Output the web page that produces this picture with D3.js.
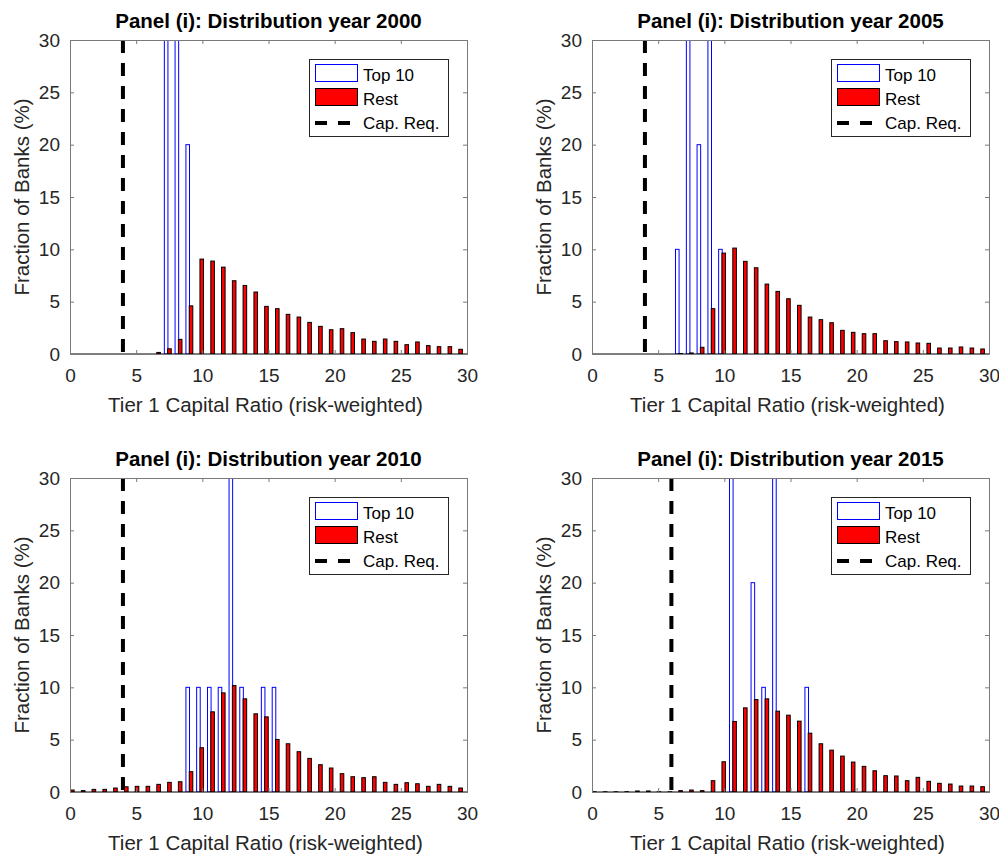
<!DOCTYPE html>
<html>
<head>
<meta charset="utf-8">
<script src="https://cdn.jsdelivr.net/npm/d3@7"></script>
<style>
  body { margin: 0; background: #fff; }
  svg { font-family: "Liberation Sans", Arial, sans-serif; }
  .tick text { fill: #262626; }
</style>
</head>
<body>
<div id="chart"></div>
<script>
// Data
const binCenters = [0.05, 0.87, 1.68, 2.50, 3.31, 4.13, 4.94, 5.76, 6.57, 7.39, 8.20, 9.02, 9.83, 10.65, 11.46, 12.28, 13.09, 13.91, 14.72, 15.54, 16.35, 17.17, 17.98, 18.80, 19.61, 20.43, 21.24, 22.06, 22.87, 23.69, 24.50, 25.32, 26.13, 26.95, 27.76, 28.58, 29.39];

const years = ['2000', '2005', '2010', '2015'];
const capReq = [4, 4, 4, 6];

const top10_2000 = [0,0,0,0,0,0,0,0,0,40,40,20,0,0,0,0,0,0,0,0,0,0,0,0,0,0,0,0,0,0,0,0,0,0,0,0,0];
const rest_2000  = [0,0,0,0,0,0,0,0,0.15,0.5,1.4,4.6,9.07,8.88,8.3,7.0,6.55,5.92,4.55,4.33,3.79,3.53,3.02,2.64,2.32,2.42,2.04,1.43,1.21,1.43,1.21,0.89,1.15,0.8,0.7,0.7,0.45];

const top10_2005 = [0,0,0,0,0,0,0,0,10,30,20,30,10,0,0,0,0,0,0,0,0,0,0,0,0,0,0,0,0,0,0,0,0,0,0,0,0];
const rest_2005  = [0,0,0,0,0,0,0,0,0.05,0.1,0.64,4.33,9.64,10.12,8.85,8.24,6.68,5.98,5.28,4.65,3.53,3.28,2.99,2.26,2.07,1.94,1.94,1.27,1.18,1.15,1.05,1.02,0.57,0.57,0.67,0.57,0.48];

const top10_2010 = [0,0,0,0,0,0,0,0,0,0,0,10,10,10,10,30,10,0,10,10,0,0,0,0,0,0,0,0,0,0,0,0,0,0,0,0,0];
const rest_2010  = [0.19,0.13,0.25,0.25,0.38,0.5,0.54,0.54,0.73,0.92,0.98,1.94,4.23,7.66,9.47,10.17,8.9,7.47,7.18,5.02,4.61,3.85,3.21,2.61,2.29,1.75,1.46,1.37,1.46,0.92,0.73,0.89,0.79,0.54,0.73,0.54,0.38];

const top10_2015 = [0,0,0,0,0,0,0,0,0,0,0,0,0,30,0,20,10,30,0,0,10,0,0,0,0,0,0,0,0,0,0,0,0,0,0,0,0];
const rest_2015  = [0.02,0.02,0.02,0.03,0.1,0.1,0.02,0.02,0.13,0.19,0.13,1.08,2.89,6.74,8.04,8.83,8.9,7.72,7.34,6.77,5.62,4.61,4.0,3.43,2.86,2.45,2.03,1.56,1.53,1.08,1.4,1.02,0.83,0.76,0.57,0.57,0.51];

const xTicks = [0, 5, 10, 15, 20, 25, 30];
const yTicks = [0, 5, 10, 15, 20, 25, 30];
const legendLabels = ['Top 10', 'Rest', 'Cap. Req.'];

const top10Series = [top10_2000, top10_2005, top10_2010, top10_2015];
const restSeries = [rest_2000, rest_2005, rest_2010, rest_2015];

// Layout
const W = 999, H = 854;
const plotW = 397, plotH = 314;
const origins = [
    { left: 70, top: 40 },
    { left: 592, top: 40 },
    { left: 70, top: 478 },
    { left: 592, top: 478 }
];
const barOffset = 0.125;   // half distance between the two bars in a group
const barWidth = 0.27;
const axisColor = '#7a7a7a';

const svg = d3.select('#chart')
    .append('svg')
    .attr('width', W)
    .attr('height', H);

const x = d3.scaleLinear().domain([0, 30]).range([0, plotW]);
const y = d3.scaleLinear().domain([0, 30]).range([plotH, 0]);

years.forEach((year, p) => {
    const o = origins[p];
    const g = svg.append('g').attr('transform', `translate(${o.left},${o.top})`);

    g.append('clipPath')
        .attr('id', 'clip' + p)
        .append('rect')
        .attr('width', plotW)
        .attr('height', plotH);

    const plot = g.append('g').attr('clip-path', `url(#clip${p})`);

    const top10 = top10Series[p];
    const rest = restSeries[p];

    // Top 10 bars (outline only)
    plot.selectAll('.top')
        .data(binCenters.map((c, i) => ({ c, v: top10[i] })))
        .enter()
        .append('rect')
        .attr('class', 'top')
        .attr('x', d => x(d.c - barOffset - barWidth / 2))
        .attr('width', x(barWidth) - x(0))
        .attr('y', d => y(d.v))
        .attr('height', d => y(0) - y(d.v))
        .attr('fill', 'none')
        .attr('stroke', '#0000ff')
        .attr('stroke-width', 1);

    // Rest bars
    plot.selectAll('.rest')
        .data(binCenters.map((c, i) => ({ c, v: rest[i] })))
        .enter()
        .append('rect')
        .attr('class', 'rest')
        .attr('x', d => x(d.c + barOffset - barWidth / 2))
        .attr('width', x(barWidth) - x(0))
        .attr('y', d => y(d.v))
        .attr('height', d => y(0) - y(d.v))
        .attr('fill', '#ff0000')
        .attr('stroke', '#000')
        .attr('stroke-width', 1);

    // baseline
    plot.append('line')
        .attr('x1', 0).attr('x2', plotW)
        .attr('y1', y(0)).attr('y2', y(0))
        .attr('stroke', '#000')
        .attr('stroke-width', 1);

    // capital requirement
    plot.append('line')
        .attr('x1', x(capReq[p])).attr('x2', x(capReq[p]))
        .attr('y1', y(30)).attr('y2', y(0))
        .attr('stroke', '#000')
        .attr('stroke-width', 4)
        .attr('stroke-dasharray', '13,10');

    // axes box
    g.append('rect')
        .attr('x', 0.5).attr('y', 0.5)
        .attr('width', plotW).attr('height', plotH)
        .attr('fill', 'none')
        .attr('stroke', axisColor)
        .attr('stroke-width', 1);

    const styleAxis = sel => {
        sel.select('.domain').remove();
        sel.selectAll('.tick line').attr('stroke', axisColor);
        sel.selectAll('.tick text').attr('font-size', 19);
    };

    g.append('g')
        .attr('transform', `translate(0,${plotH})`)
        .call(d3.axisBottom(x).tickValues(xTicks).tickSizeInner(-4).tickSizeOuter(0).tickPadding(15))
        .call(styleAxis);
    g.append('g')
        .call(d3.axisTop(x).tickValues(xTicks).tickSizeInner(-4).tickSizeOuter(0).tickFormat(''))
        .call(styleAxis);
    g.append('g')
        .call(d3.axisLeft(y).tickValues(yTicks).tickSizeInner(-4).tickSizeOuter(0).tickPadding(10))
        .call(styleAxis);
    g.append('g')
        .attr('transform', `translate(${plotW},0)`)
        .call(d3.axisRight(y).tickValues(yTicks).tickSizeInner(-4).tickSizeOuter(0).tickFormat(''))
        .call(styleAxis);

    // title and labels
    g.append('text')
        .attr('x', plotW / 2)
        .attr('y', -12)
        .attr('text-anchor', 'middle')
        .attr('font-size', 20.5)
        .attr('font-weight', 'bold')
        .attr('fill', '#000')
        .text(`Panel (i): Distribution year ${year}`);

    g.append('text')
        .attr('x', plotW / 2 - 3)
        .attr('y', plotH + 58)
        .attr('text-anchor', 'middle')
        .attr('font-size', 20.5)
        .attr('fill', '#262626')
        .text('Tier 1 Capital Ratio (risk-weighted)');

    g.append('text')
        .attr('transform', `translate(-41,${plotH / 2}) rotate(-90)`)
        .attr('text-anchor', 'middle')
        .attr('font-size', 20.5)
        .attr('fill', '#262626')
        .text('Fraction of Banks (%)');

    // Legend
    const lg = g.append('g').attr('transform', `translate(${plotW - 158},19)`);
    lg.append('rect')
        .attr('x', 0.5).attr('y', 0.5)
        .attr('width', 139).attr('height', 77)
        .attr('fill', '#fff')
        .attr('stroke', '#262626')
        .attr('stroke-width', 1);

    const rowY = [16, 40, 64];
    lg.append('rect')
        .attr('x', 6.5).attr('y', rowY[0] - 10.5)
        .attr('width', 42).attr('height', 17)
        .attr('fill', '#fff')
        .attr('stroke', '#0000ff');
    lg.append('rect')
        .attr('x', 6.5).attr('y', rowY[1] - 10.5)
        .attr('width', 42).attr('height', 17)
        .attr('fill', '#ff0000')
        .attr('stroke', '#000');
    lg.append('line')
        .attr('x1', 6).attr('x2', 42)
        .attr('y1', rowY[2]).attr('y2', rowY[2])
        .attr('stroke', '#000')
        .attr('stroke-width', 4)
        .attr('stroke-dasharray', '12,11');

    lg.selectAll('.lt')
        .data(legendLabels)
        .enter()
        .append('text')
        .attr('x', 54)
        .attr('y', (d, i) => rowY[i])
        .attr('dy', '0.35em')
        .attr('font-size', 17)
        .attr('fill', '#000')
        .text(d => d);
});
</script>
</body>
</html>
